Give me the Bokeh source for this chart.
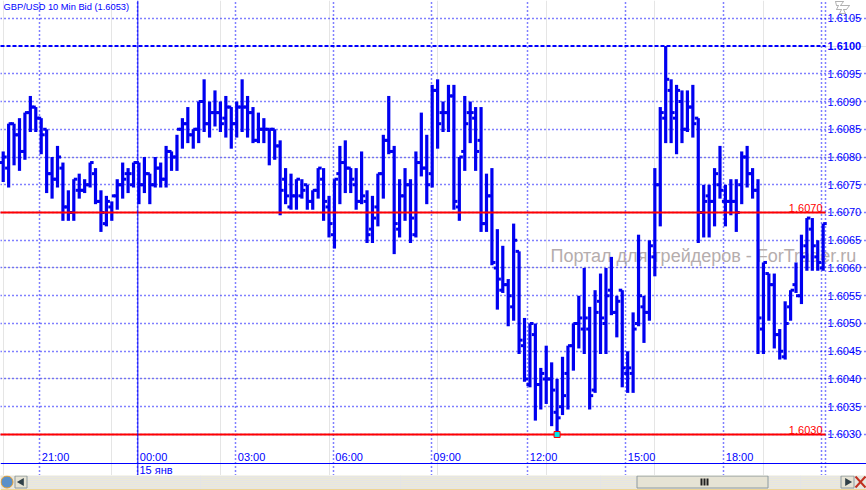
from bokeh.plotting import figure
from bokeh.layouts import column
from bokeh.models import (FixedTicker, Label, LinearAxis, Span, PrintfTickFormatter,
                          Range1d, PolyAnnotation, Grid)
from bokeh.core.properties import value
from bokeh.embed import file_html
from bokeh.resources import INLINE

# OHLC, in pips above 1.6000
highs = [81,86,86,87,88,91,89,87,85,80,82,79,74,76,77,76,79,78,74,73,72,76,79,78,79,79,80,77,80,79,
         82,81,84,87,89,85,90,94,90,92,90,91,89,90,94,91,89,88,87,85,85,83,78,77,76,76,75,74,78,78,
         73,76,82,83,78,78,81,74,73,77,84,91,82,76,78,76,81,88,84,93,94,90,93,93,80,91,90,89,89,77,
         78,67,64,58,68,63,51,50,50,42,46,43,40,44,46,50,55,60,53,56,59,60,62,55,56,45,52,66,55,65,
         78,89,100,94,93,92,92,93,87,75,75,78,82,75,76,76,81,82,78,76,61,59,59,49,54,56,61,66,69,69,65,68]
lows = [75.5,74.5,78.5,77.5,79.5,84.5,84.5,80.5,73.5,72.5,74.5,68.5,68.5,68.5,72.5,73.5,74.5,71.5,66.5,67.5,
        68.5,70.5,72.5,73.5,74.5,71.5,73.5,71.5,74.5,74.5,74.5,77.5,77.5,81.5,82.5,81.5,82.5,84.5,83.5,85.5,
        84.5,83.5,81.5,83.5,84.5,83.5,82.5,82.5,82.5,78.5,79.5,69.5,71.5,70.5,70.5,72.5,70.5,70.5,72.5,68.5,
        65.5,63.5,71.5,73.5,73.5,70.5,71.5,64.5,64.5,67.5,72.5,80.5,62.5,65.5,68.5,64.5,65.5,76.5,71.5,74.5,
        81.5,84.5,84.5,70.5,68.5,77.5,82.5,77.5,66.5,66.5,60.5,52.5,55.5,49.5,50.5,44.5,39.5,38.5,32.5,34.5,
        35.5,31.5,30.5,33.5,34.5,41.5,45.5,44.5,34.5,37.5,44.5,44.5,51.5,47.5,38.5,37.5,37.5,49.5,46.5,50.5,
        58.5,67.5,82.5,82.5,80.5,82.5,84.5,83.5,64.5,65.5,65.5,67.5,72.5,67.5,69.5,66.5,71.5,74.5,72.5,44.5,
        44.5,50.5,45.5,43.5,43.5,50.5,55.5,53.5,59.5,59.5,59.5,59.5]
opens = [79,78,86,84,81,88,89,87,85,77,76,78,71,70,74,74,75,77,72,68,71,73,75,77,75,79,75,77,75,78,
         76,81,80,85,86,84,85,90,86,88,88,87,89,86,89,89,88,83,85,85,85,82,76,71,73,73,75,72,74,76,
         71,66,77,79,78,75,72,72,67,71,77,83,81,67,73,75,66,79,78,77,92,88,88,91,71,81,88,87,83,68,
         73,60,56,57,53,63,46,39,48,39,40,40,34,35,41,46,50,49,49,38,54,50,56,52,56,41,41,50,53,52,
         62,75,87,92,87,90,85,89,87,70,73,72,75,72,72,72,75,80,77,74,49,59,57,48,44,53,57,55,64,67,62,60]
closes = [80,86,84,81,88,89,87,84,77,76,80,71,70,76,74,75,79,72,70,72,73,75,76,77,79,75,77,75,78,76,
          81,80,85,86,84,85,90,86,88,88,86,89,86,89,89,88,83,85,85,85,82,74,73,73,76,74,72,74,78,72,
          68,76,79,78,76,72,73,66,69,77,83,81,68,73,75,69,79,78,75,92,86,88,91,72,80,86,88,81,68,73,
          61,58,57,55,65,47,40,50,39,41,40,38,33,37,46,50,51,51,37,52,51,55,52,54,42,42,49,55,52,64,
          75,88,94,88,92,85,89,86,70,72,72,77,74,72,72,70,80,77,74,51,61,57,48,45,50,56,55,62,69,64,61,68]
y_tick_values = [1.603,1.6035,1.604,1.6045,1.605,1.6055,1.606,1.6065,1.607,1.6075,1.608,1.6085,1.609,1.6095,1.61,1.6105]
time_labels = ["21:00","00:00","03:00","06:00","09:00","12:00","15:00","18:00"]
time_positions = [6.74,24.79,42.84,60.8,78.85,96.6,114.66,132.7]
edge_positions = [150.64,151.38]
date_label = "15 янв"
title_text = "GBP/USD 10 Min Bid (1.6053)"
watermark = "Портал для трейдеров - ForTrader.ru"
level_high, level_low, level_top = 1.6070, 1.6030, 1.6100
low_bar = 102

BLUE = "#0000F0"
LINE = "#0000FF"
FONT = "Liberation Sans"

idx = list(range(len(highs)))
H = [1.6 + v / 1e4 for v in highs]
L = [1.6 + v / 1e4 for v in lows]
O = [1.6 + v / 1e4 for v in opens]
C = [1.6 + v / 1e4 for v in closes]

# the frame fills the whole top part; the price axis and time axis sit inside it
x_min, x_edge, x_max = -0.497, 151.44, 158.98
y_min, y_axis, y_max = 1.602261, 1.602477, 1.61082

p = figure(width=866, height=475, frame_width=866, frame_height=475,
           x_range=Range1d(x_min, x_max), y_range=Range1d(y_min, y_max),
           x_axis_location=None, y_axis_location=None,
           toolbar_location=None, output_backend="svg",
           min_border=0, min_border_left=0, min_border_right=0, min_border_top=0, min_border_bottom=0,
           background_fill_color="white", border_fill_color="white", outline_line_color=None)

# axes
right = LinearAxis(ticker=FixedTicker(ticks=y_tick_values), fixed_location=x_edge,
                   formatter=PrintfTickFormatter(format="%.4f"),
                   major_label_overrides={level_top: ""},
                   axis_line_color=None, major_tick_line_color=None, minor_tick_line_color=None,
                   major_tick_in=0, major_tick_out=0, major_label_standoff=2,
                   major_label_text_color=LINE, major_label_text_font=FONT,
                   major_label_text_font_size="11px")
p.add_layout(right, "right")
below = LinearAxis(ticker=FixedTicker(ticks=[]), fixed_location=y_axis,
                   axis_line_color=LINE, axis_line_width=1,
                   major_tick_line_color=None, minor_tick_line_color=None,
                   major_tick_in=0, major_tick_out=0, major_label_text_font_size="1px")
p.add_layout(below, "below")

# grids
p.add_layout(Grid(dimension=0, ticker=FixedTicker(ticks=time_positions + edge_positions),
                  bounds=(y_axis, y_max), grid_line_color=LINE, grid_line_dash="1 3", grid_line_width=1.5))
p.add_layout(Grid(dimension=1, ticker=FixedTicker(ticks=[v for v in y_tick_values if v != level_top]),
                  bounds=(x_min, x_edge), grid_line_color=LINE, grid_line_dash="1 3", grid_line_width=1.5))

# watermark, under the bars
p.add_layout(Label(x=550, y=255, x_units="canvas", y_units="canvas", text=watermark, text_align="left",
                   text_baseline="middle", text_color="#B5ADAD", text_font=FONT, text_font_size="18px",
                   level="annotation"))

# bars
p.segment(idx, H, idx, L, line_color=BLUE, line_width=3.2, level="overlay")
p.segment([i - 0.65 for i in idx], O, idx, O, line_color=BLUE, line_width=3, level="overlay")
p.segment(idx, C, [i + 0.65 for i in idx], C, line_color=BLUE, line_width=3, level="overlay")

# levels
p.add_layout(Span(location=time_positions[1], dimension="height", line_color=LINE, line_width=1, level="overlay"))
p.segment([x_min], [level_top], [x_edge], [level_top], line_color=LINE, line_width=2, line_dash="4 2", level="overlay")
for lv in (level_high, level_low):
    p.segment([x_min], [lv], [x_edge], [lv], line_color="#FF0000", line_width=2, level="overlay")
    p.add_layout(Label(x=822, y=lv, x_units="canvas", y_units="data", text=f"{lv:.4f}", text_align="right",
                       text_baseline="bottom", y_offset=0, text_color="#FF0000", text_font=FONT,
                       text_font_size="11px", level="overlay"))
p.scatter([low_bar], [level_low], marker="square", size=6, fill_color="#00E8E8", line_color="#FF0000",
          line_width=1, level="overlay")

# texts inside the frame
p.text(x=time_positions, y=[y_axis] * len(time_positions), text=time_labels, x_offset=2, y_offset=-1,
       text_align="left", text_baseline="bottom", text_color=LINE, text_font=value(FONT), text_font_size="11px")
p.add_layout(Label(x=3, y=1, x_units="canvas", y_units="canvas", text=title_text, text_align="left",
                   text_baseline="top", text_color=LINE, text_font=FONT, text_font_size="9.3px"))
p.add_layout(Label(x=827, y=level_top, x_units="canvas", y_units="data", text=f"{level_top:.4f}", text_align="left",
                   text_baseline="middle", text_color=LINE, text_font=FONT, text_font_size="11px",
                   text_font_style="bold"))
p.add_layout(Label(x=139, y=469, x_units="canvas", y_units="canvas", text=date_label, text_align="left",
                   text_baseline="middle", text_color=LINE, text_font=FONT, text_font_size="11px"))
# the small stacked zigzag icon at the top right
p.add_layout(PolyAnnotation(xs=[835,843,840,849,846,843,845,839,841,836,838,836],
                            ys=[1,1,5,5,9,9,13,13,9,9,5,5],
                            xs_units="canvas", ys_units="canvas",
                            fill_color="white", fill_alpha=1, line_color="black", line_width=1))

# window chrome under the chart
strip = figure(width=866, height=15, x_range=Range1d(0, 866), y_range=Range1d(490, 475),
               x_axis_location=None, y_axis_location=None, toolbar_location=None, output_backend="svg",
               min_border=0, outline_line_color=None, background_fill_color="#ECE9D8", border_fill_color="#ECE9D8")
strip.quad(left=[0], right=[866], top=[489], bottom=[490], fill_color="#F0C050", line_color=None)
strip.quad(left=[14.5, 840.5, 636.5], right=[26.5, 853.5, 767.5], top=[475.5, 475.5, 475.5], bottom=[487.5, 487.5, 487.5],
           fill_color="#E6E3D4", line_color="#8E9A9E", line_width=1)
strip.scatter([6.5], [481.5], marker="circle", size=12, fill_color="#5A90C8", line_color="#E8A030")
strip.scatter([21, 847], [481.5, 481.5], marker="triangle", size=8, angle=[1.5708, -1.5708], fill_color="#304048", line_color=None)
strip.quad(left=[700, 703, 706], right=[702, 705, 708], top=[478, 478, 478], bottom=[485, 485, 485], fill_color="#202020", line_color=None)
strip.segment([855, 855], [476, 487], [865, 865], [487, 476], line_color="#C03020", line_width=2)

out = column(p, strip, spacing=0)
open("out.html", "w").write(file_html(out, INLINE))
